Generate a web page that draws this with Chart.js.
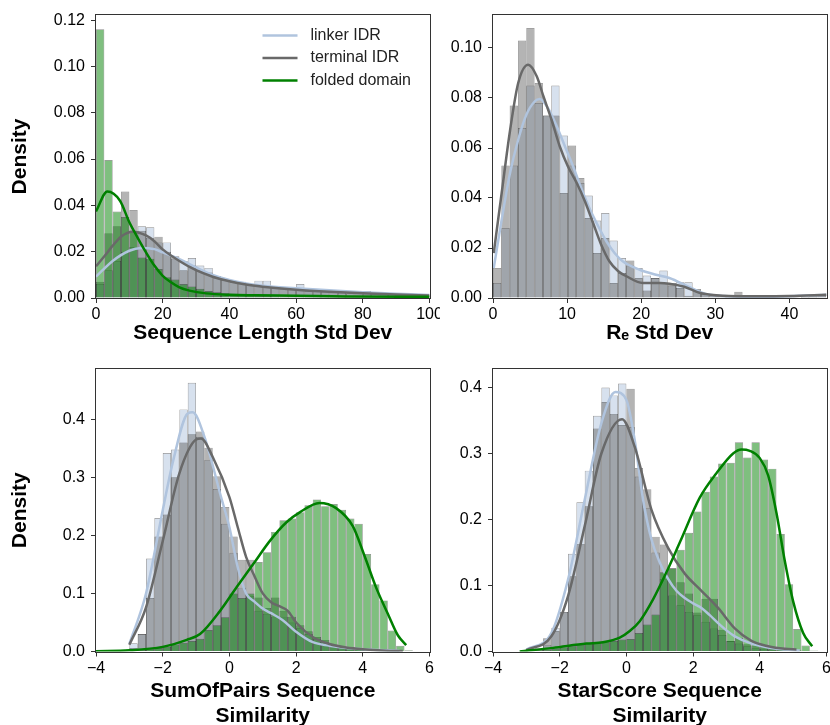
<!DOCTYPE html>
<html lang="en">
<head>
<meta charset="UTF-8">
<title>Alignment variability densities</title>
<script src="https://cdn.jsdelivr.net/npm/chart.js"></script>
<style>
  html, body { margin: 0; padding: 0; background: #fff; overflow: hidden; }
  #wrap { position: relative; width: 830px; height: 725px; overflow: hidden; }
  #wrap canvas { position: absolute; }
</style>
</head>
<body>
<div id="wrap">
  <canvas id="lenChart" width="440" height="355" style="left:0;top:0"></canvas>
  <canvas id="reChart" width="390" height="355" style="left:440px;top:0"></canvas>
  <canvas id="sopChart" width="440" height="390" style="left:0;top:345px"></canvas>
  <canvas id="starChart" width="390" height="390" style="left:440px;top:345px"></canvas>
</div>
<script>
// series
const seriesNames = ['linker IDR', 'terminal IDR', 'folded domain'];
const lineColors = ['#b0c4de', '#696969', '#008000'];
const barColors = ['rgba(176,196,222,0.5)', 'rgba(105,105,105,0.5)', 'rgba(0,128,0,0.5)'];
const FONT = "'Liberation Sans', Arial, sans-serif";

// --- Sequence Length Std Dev (bins of 2.5 starting at 0) ---
const lenBinStart = 0, lenBinWidth = 2.5;
const lenLinker = [0.006, 0.012, 0.016, 0.020, 0.022, 0.031, 0.0305, 0.024, 0.024, 0.017, 0.016, 0.0173, 0.014, 0.013, 0.0085, 0.0078, 0.007, 0.007, 0.006, 0.0075, 0.0075, 0.005, 0.0045, 0.0045, 0.006, 0.0035, 0.003, 0.0035, 0.0025, 0.0025, 0.002, 0.002, 0.003, 0.0018, 0.0015, 0.0015, 0.0013, 0.0012, 0.0011, 0.001];
const lenTerminal = [0.007, 0.028, 0.031, 0.046, 0.038, 0.029, 0.026, 0.0265, 0.020, 0.018, 0.012, 0.014, 0.012, 0.011, 0.0095, 0.008, 0.007, 0.0065, 0.006, 0.0055, 0.005, 0.0045, 0.004, 0.004, 0.0035, 0.003, 0.003, 0.0028, 0.0025, 0.0022, 0.002, 0.002, 0.0018, 0.0017, 0.0015, 0.0014, 0.0013, 0.0012, 0.0011, 0.001];
const lenFolded = [0.116, 0.0596, 0.0373, 0.035, 0.029, 0.0175, 0.017, 0.0125, 0.009, 0.008, 0.006, 0.005, 0.004, 0.003, 0.0025, 0.002, 0.0018, 0.0015, 0.0012, 0.001, 0.0009, 0.0008, 0.0007, 0.0006, 0.0006, 0.0005, 0.0005, 0.0004, 0.0004, 0.0004, 0.0003, 0.0003, 0.0003, 0.0003, 0.0002, 0.0002, 0.0002, 0.0002, 0.0002, 0.0002];
const lenKdeLinkerX = [0, 5, 10, 13.5, 17.5, 20, 25, 30, 35, 40, 45, 50, 60, 70, 80, 90, 100];
const lenKdeLinkerY = [0.0092, 0.016, 0.0204, 0.0216, 0.0211, 0.0197, 0.0168, 0.0132, 0.010, 0.0078, 0.0063, 0.0053, 0.0042, 0.0033, 0.0025, 0.0018, 0.0013];
const lenKdeTerminalX = [0, 2.5, 5, 7.5, 11, 15, 17.5, 20, 25, 30, 35, 40, 45, 50, 60, 70, 80, 90, 100];
const lenKdeTerminalY = [0.0137, 0.018, 0.0226, 0.0265, 0.0286, 0.027, 0.0245, 0.021, 0.016, 0.012, 0.0092, 0.0072, 0.0058, 0.0049, 0.0036, 0.0027, 0.002, 0.0015, 0.0011];
const lenKdeFoldedX = [0, 3.4, 7.2, 10, 12.5, 15, 17.5, 20, 22.5, 25, 28, 33, 40, 48, 60, 75, 100];
const lenKdeFoldedY = [0.0374, 0.046, 0.042, 0.0327, 0.026, 0.0197, 0.014, 0.0096, 0.0068, 0.0046, 0.0032, 0.002, 0.0014, 0.0012, 0.001, 0.0007, 0.0005];
const lenXTicks = [0, 20, 40, 60, 80, 100];
const lenYTicks = [0, 0.02, 0.04, 0.06, 0.08, 0.10, 0.12];

// --- Re Std Dev (bins of 1.1225 starting at 0) ---
const reBinStart = 0, reBinWidth = 1.1225;
const reLinker = [0.006, 0.028, 0.053, 0.068, 0.085, 0.078, 0.073, 0.085, 0.065, 0.053, 0.046, 0.041, 0.031, 0.034, 0.023, 0.016, 0.013, 0.012, 0.009, 0.008, 0.011, 0.005, 0.0063, 0.0063, 0.003, 0.0015, 0.001, 0.0008, 0.0006, 0.0005, 0.0003, 0.0003, 0.0003, 0.0003, 0.0003, 0.0003, 0.0003, 0.0004, 0.0005, 0.001];
const reTerminal = [0.012, 0.053, 0.077, 0.103, 0.108, 0.086, 0.073, 0.073, 0.042, 0.061, 0.048, 0.032, 0.018, 0.024, 0.006, 0.010, 0.015, 0.008, 0.003, 0.008, 0.006, 0.006, 0.004, 0.0009, 0.0036, 0.0016, 0.001, 0.0008, 0.0005, 0.0025, 0.0005, 0.0003, 0.0003, 0.0003, 0.0003, 0.0003, 0.0003, 0.0005, 0.0008, 0.0016];
const reKdeLinkerX = [0.1, 1.17, 2.3, 3.4, 4.5, 5.65, 6.3, 7.4, 8.6, 9.7, 10.8, 11.9, 13.0, 14.2, 15.3, 16.4, 17.5, 19.8, 22, 23.8, 26.5, 28.7, 31, 35.5, 40, 45];
const reKdeLinkerY = [0.012, 0.0313, 0.05, 0.0633, 0.0733, 0.0787, 0.0796, 0.076, 0.0687, 0.0607, 0.0527, 0.044, 0.036, 0.0287, 0.0227, 0.018, 0.0147, 0.0113, 0.0093, 0.008, 0.0043, 0.0016, 0.0008, 0.0005, 0.0007, 0.0013];
const reKdeTerminalX = [0.1, 1.17, 2.3, 3.4, 4.75, 5.9, 6.8, 7.9, 9.0, 10.1, 11.3, 12.4, 13.5, 14.6, 15.7, 16.9, 18, 20.2, 22.5, 23.8, 25.8, 28.1, 31, 35.5, 40, 45];
const reKdeTerminalY = [0.018, 0.042, 0.067, 0.086, 0.0933, 0.0887, 0.0807, 0.0713, 0.0607, 0.0527, 0.046, 0.0387, 0.030, 0.0213, 0.0147, 0.0107, 0.0087, 0.006, 0.006, 0.0057, 0.0045, 0.0019, 0.0009, 0.0007, 0.0008, 0.0013];
const reXTicks = [0, 10, 20, 30, 40];
const reYTicks = [0, 0.02, 0.04, 0.06, 0.08, 0.10];

// --- SumOfPairs Sequence Similarity (bins of 0.25 starting at -3) ---
const sopBinStart = -3, sopBinWidth = 0.25;
const sopLinker = [0.014, 0.03, 0.16, 0.23, 0.342, 0.348, 0.417, 0.463, 0.37, 0.33, 0.28, 0.22, 0.17, 0.11, 0.095, 0.07, 0.065, 0.06, 0.06, 0.05, 0.04, 0.03, 0.022, 0.016, 0.01, 0.008, 0.006, 0.004, 0.003, 0.002, 0.002, 0.001, 0.001, 0];
const sopTerminal = [0.006, 0.03, 0.092, 0.198, 0.236, 0.30, 0.36, 0.374, 0.379, 0.351, 0.302, 0.249, 0.198, 0.158, 0.158, 0.093, 0.075, 0.093, 0.07, 0.06, 0.045, 0.035, 0.025, 0.02, 0.012, 0.008, 0.006, 0.004, 0.003, 0.002, 0.0015, 0.001, 0.0005, 0];
const sopFolded = [0.002, 0.003, 0.004, 0.006, 0.008, 0.012, 0.015, 0.018, 0.022, 0.037, 0.045, 0.059, 0.10, 0.092, 0.10, 0.154, 0.171, 0.206, 0.226, 0.229, 0.240, 0.252, 0.262, 0.250, 0.254, 0.244, 0.229, 0.220, 0.168, 0.116, 0.088, 0.036, 0.010, 0.002];
const sopKdeLinkerX = [-3.0, -2.5, -2.0, -1.68, -1.25, -1.1, -0.75, -0.25, 0, 0.25, 0.5, 0.75, 1.0, 1.25, 1.6, 2.0, 2.5, 3.0, 3.5, 4.0, 5.0, 5.1];
const sopKdeLinkerY = [0.013, 0.10, 0.243, 0.33, 0.41, 0.412, 0.37, 0.266, 0.214, 0.145, 0.10, 0.086, 0.074, 0.066, 0.054, 0.034, 0.016, 0.01, 0.006, 0.004, 0.0015, 0.0015];
const sopKdeTerminalX = [-3.0, -2.5, -2.0, -1.5, -1.0, -0.85, -0.5, 0, 0.25, 0.5, 0.75, 1.0, 1.25, 1.5, 1.75, 2.0, 2.5, 3.0, 3.5, 4.0, 5.0, 5.2];
const sopKdeTerminalY = [0.0115, 0.076, 0.19, 0.307, 0.365, 0.367, 0.335, 0.266, 0.214, 0.163, 0.13, 0.10, 0.085, 0.078, 0.07, 0.05, 0.025, 0.013, 0.007, 0.004, 0.001, 0.001];
const sopKdeFoldedX = [-4, -3, -2, -1.28, -0.88, -0.28, 0.22, 0.72, 1.22, 1.72, 2.12, 2.7, 3.2, 3.7, 4.05, 4.4, 4.75, 5.05, 5.3];
const sopKdeFoldedY = [0.0005, 0.002, 0.008, 0.02, 0.03, 0.07, 0.111, 0.151, 0.191, 0.223, 0.24, 0.256, 0.247, 0.216, 0.165, 0.11, 0.065, 0.028, 0.011];
const simXTicks = [-4, -2, 0, 2, 4, 6];
const sopYTicks = [0, 0.1, 0.2, 0.3, 0.4];

// --- StarScore Sequence Similarity (bins of 0.25 starting at -3) ---
const starBinStart = -3, starBinWidth = 0.25;
const starLinker = [0.0, 0.003, 0.01, 0.036, 0.06, 0.148, 0.226, 0.274, 0.357, 0.40, 0.388, 0.406, 0.34, 0.265, 0.217, 0.15, 0.11, 0.085, 0.07, 0.06, 0.055, 0.045, 0.035, 0.025, 0.016, 0.012, 0.008, 0.005, 0.004, 0.003, 0.002, 0.0015, 0.001, 0, 0];
const starTerminal = [0.002, 0.005, 0.02, 0.031, 0.06, 0.114, 0.163, 0.22, 0.338, 0.378, 0.36, 0.343, 0.398, 0.278, 0.246, 0.174, 0.162, 0.126, 0.105, 0.088, 0.059, 0.08, 0.08, 0.033, 0.016, 0.021, 0.011, 0.009, 0.008, 0.005, 0.004, 0.003, 0.002, 0.001, 0];
const starFolded = [0.001, 0.002, 0.003, 0.004, 0.006, 0.008, 0.01, 0.012, 0.013, 0.014, 0.016, 0.018, 0.019, 0.028, 0.041, 0.056, 0.12, 0.126, 0.154, 0.18, 0.212, 0.242, 0.265, 0.285, 0.286, 0.317, 0.294, 0.317, 0.291, 0.277, 0.178, 0.102, 0.034, 0.009, 0.0015];
const starKdeLinkerX = [-3.0, -2.25, -1.75, -1.25, -0.75, -0.33, 0, 0.25, 0.5, 0.75, 1.0, 1.25, 1.5, 1.75, 2.0, 2.25, 2.5, 2.75, 3.0, 3.25, 3.75, 4.25, 4.75, 5.2];
const starKdeLinkerY = [0.003, 0.028, 0.109, 0.23, 0.346, 0.393, 0.381, 0.32, 0.23, 0.17, 0.135, 0.11, 0.092, 0.081, 0.073, 0.066, 0.055, 0.043, 0.032, 0.023, 0.012, 0.006, 0.003, 0.0015];
const starKdeTerminalX = [-3.0, -2.25, -1.75, -1.25, -0.75, -0.13, 0.25, 0.75, 1.25, 1.75, 2.25, 2.75, 3.25, 3.75, 4.25, 4.75, 5.1];
const starKdeTerminalY = [0.002, 0.023, 0.084, 0.19, 0.30, 0.352, 0.31, 0.215, 0.157, 0.118, 0.092, 0.066, 0.035, 0.016, 0.008, 0.004, 0.003];
const starKdeFoldedX = [-3.2, -2.2, -1.2, -0.7, -0.2, 0.1, 0.4, 0.8, 1.2, 1.6, 2.2, 2.7, 3.2, 3.45, 3.7, 4.0, 4.25, 4.5, 4.75, 5.0, 5.3, 5.57];
const starKdeFoldedY = [0.0, 0.0055, 0.012, 0.014, 0.021, 0.031, 0.046, 0.079, 0.12, 0.165, 0.233, 0.27, 0.30, 0.306, 0.304, 0.293, 0.267, 0.21, 0.137, 0.076, 0.028, 0.008];
const starYTicks = [0, 0.1, 0.2, 0.3, 0.4];

// helpers
function histPoints(start, width, values) {
  return values.map((v, i) => ({ x: start + (i + 0.5) * width, y: v }));
}
function curvePoints(xs, ys) {
  return xs.map((x, i) => ({ x: x, y: ys[i] }));
}
function fmtX(v) {
  return (v < 0 ? '\u2212' : '') + Math.abs(v);
}

// box around the plot area, like matplotlib spines
const framePlugin = {
  id: 'frame',
  afterDraw(chart) {
    const a = chart.chartArea, ctx = chart.ctx;
    ctx.save();
    ctx.strokeStyle = '#333';
    ctx.lineWidth = 1;
    ctx.strokeRect(Math.round(a.left) - 0.5, Math.round(a.top) - 0.5,
      Math.round(a.right) - Math.round(a.left) + 1, Math.round(a.bottom) - Math.round(a.top) + 1);
    ctx.restore();
  }
};

// legend with line keys in the top right of the first panel
const legendPlugin = {
  id: 'lineLegend',
  afterDraw(chart) {
    if (!chart.options.plugins.lineLegend || !chart.options.plugins.lineLegend.show) return;
    const a = chart.chartArea, ctx = chart.ctx;
    ctx.save();
    ctx.font = '16px ' + FONT;
    ctx.textBaseline = 'middle';
    seriesNames.forEach((name, i) => {
      const y = a.top + 20.5 + i * 22.5;
      ctx.strokeStyle = lineColors[i];
      ctx.lineWidth = 2.5;
      ctx.beginPath();
      ctx.moveTo(a.right - 167, y);
      ctx.lineTo(a.right - 132, y);
      ctx.stroke();
      ctx.fillStyle = '#222';
      ctx.fillText(name, a.right - 119, y);
    });
    ctx.restore();
  }
};

function makePanel(id, p) {
  const datasets = [];
  p.kde.forEach((k, i) => {
    if (!k) return;
    datasets.push({
      type: 'line',
      label: seriesNames[i] + ' KDE',
      data: curvePoints(k[0], k[1]),
      borderColor: lineColors[i],
      borderWidth: 2.5,
      pointRadius: 0,
      fill: false,
      cubicInterpolationMode: 'monotone',
      order: 2 - i
    });
  });
  p.hist.forEach((h, i) => {
    if (!h) return;
    datasets.push({
      type: 'bar',
      label: seriesNames[i],
      data: histPoints(p.binStart, p.binWidth, h),
      backgroundColor: barColors[i],
      borderColor: 'rgba(0,0,0,0.45)',
      borderWidth: 0.7,
      borderSkipped: 'start',
      inflateAmount: 0,
      barPercentage: 1,
      categoryPercentage: 1,
      grouped: false,
      order: 5 - i
    });
  });

  return new Chart(document.getElementById(id), {
    type: 'bar',
    data: { datasets: datasets },
    plugins: [framePlugin, legendPlugin],
    options: {
      responsive: false,
      animation: false,
      devicePixelRatio: 1,
      layout: { padding: p.pad },
      plugins: {
        legend: { display: false },
        tooltip: { enabled: false },
        lineLegend: { show: !!p.legend }
      },
      scales: {
        x: {
          type: 'linear',
          min: p.xMin, max: p.xMax,
          offset: false,
          afterBuildTicks: s => { s.ticks = p.xTicks.map(v => ({ value: v })); },
          afterFit: s => { s.height = p.xHeight; s.paddingLeft = 0; s.paddingRight = 0; },
          ticks: { font: { family: FONT, size: 16 }, color: '#000', padding: 2, maxRotation: 0, autoSkip: false, callback: v => fmtX(v) },
          grid: { offset: false, drawOnChartArea: false, drawTicks: true, tickLength: 5, color: '#333' },
          border: { display: false },
          title: { display: true, text: p.xTitle, color: '#000', font: { family: FONT, size: 21, weight: 'bold' }, padding: { top: 0, bottom: p.xTitlePad } }
        },
        y: {
          type: 'linear',
          min: 0, max: p.yMax,
          afterBuildTicks: s => { s.ticks = p.yTicks.map(v => ({ value: v })); },
          afterFit: s => { s.width = p.yWidth; s.paddingTop = 0; s.paddingBottom = 0; },
          ticks: { font: { family: FONT, size: 16 }, color: '#000', padding: 6, autoSkip: false, callback: v => v.toFixed(p.yDec) },
          grid: { drawOnChartArea: false, drawTicks: true, tickLength: 5, color: '#333' },
          border: { display: false },
          title: { display: !!p.yTitle, text: p.yTitle || '', color: '#000', font: { family: FONT, size: 21, weight: 'bold' }, padding: { top: 8, bottom: 0 } }
        }
      }
    }
  });
}

makePanel('lenChart', {
  binStart: lenBinStart, binWidth: lenBinWidth,
  hist: [lenLinker, lenTerminal, lenFolded],
  kde: [[lenKdeLinkerX, lenKdeLinkerY], [lenKdeTerminalX, lenKdeTerminalY], [lenKdeFoldedX, lenKdeFoldedY]],
  xMin: 0, xMax: 100, xTicks: lenXTicks,
  yMax: 0.1222, yTicks: lenYTicks, yDec: 2,
  xTitle: 'Sequence Length Std Dev', xTitlePad: 9, yTitle: 'Density',
  pad: { top: 15, right: 10.5, bottom: 0, left: 0 }, yWidth: 96, xHeight: 57,
  legend: true
});

makePanel('reChart', {
  binStart: reBinStart, binWidth: reBinWidth,
  hist: [reLinker, reTerminal, null],
  kde: [[reKdeLinkerX, reKdeLinkerY], [reKdeTerminalX, reKdeTerminalY], null],
  xMin: 0, xMax: 45, xTicks: reXTicks,
  yMax: 0.1132, yTicks: reYTicks, yDec: 2,
  xTitle: 'R\u2091 Std Dev', xTitlePad: 9, yTitle: null,
  pad: { top: 15, right: 3.5, bottom: 0, left: 0 }, yWidth: 53, xHeight: 57
});

makePanel('sopChart', {
  binStart: sopBinStart, binWidth: sopBinWidth,
  hist: [sopLinker, sopTerminal, sopFolded],
  kde: [[sopKdeLinkerX, sopKdeLinkerY], [sopKdeTerminalX, sopKdeTerminalY], [sopKdeFoldedX, sopKdeFoldedY]],
  xMin: -4, xMax: 6, xTicks: simXTicks,
  yMax: 0.4866, yTicks: sopYTicks, yDec: 1,
  xTitle: ['SumOfPairs Sequence', 'Similarity'], xTitlePad: 5.8, yTitle: 'Density',
  pad: { top: 24, right: 10.5, bottom: 0, left: 0 }, yWidth: 96, xHeight: 83.5
});

makePanel('starChart', {
  binStart: starBinStart, binWidth: starBinWidth,
  hist: [starLinker, starTerminal, starFolded],
  kde: [[starKdeLinkerX, starKdeLinkerY], [starKdeTerminalX, starKdeTerminalY], [starKdeFoldedX, starKdeFoldedY]],
  xMin: -4, xMax: 6, xTicks: simXTicks,
  yMax: 0.428, yTicks: starYTicks, yDec: 1,
  xTitle: ['StarScore Sequence', 'Similarity'], xTitlePad: 5.8, yTitle: null,
  pad: { top: 24, right: 3.5, bottom: 0, left: 0 }, yWidth: 53, xHeight: 83.5
});
</script>
</body>
</html>
